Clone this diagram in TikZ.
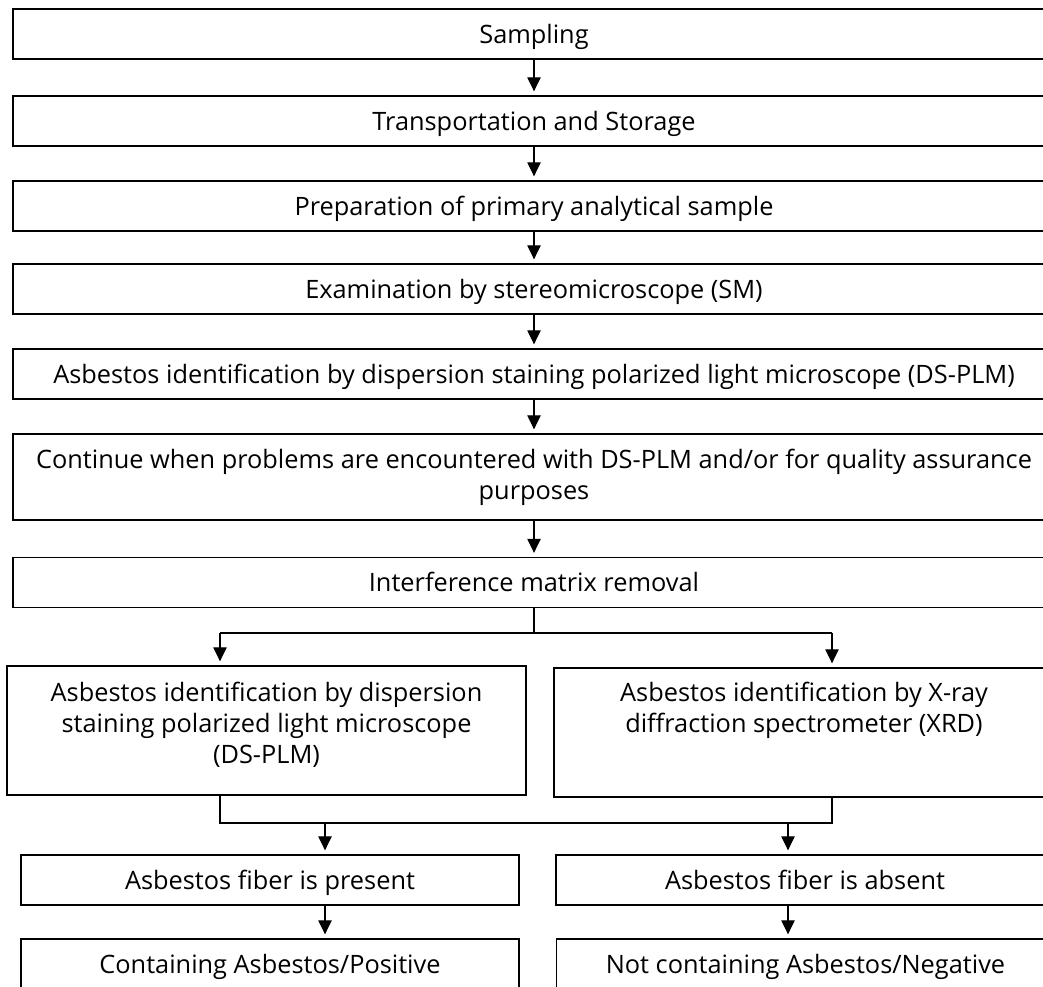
\documentclass[tikz,border=0pt]{standalone}
\usepackage{fontspec}
\setmainfont{Open Sans}
\usetikzlibrary{arrows.meta}

\begin{document}
\begin{tikzpicture}[x=0.75pt, y=-0.75pt,
		frame/.style={draw, line width=1pt, inner sep=0pt,
			font=\fontsize{19}{23.25}\selectfont},
		box/.style={frame, align=center},
		oneline/.style={frame, text height=13.6pt, text depth=0pt},
		wide/.style={oneline, minimum width=781.5pt, minimum height=37.5pt},
		half/.style={oneline, minimum width=373.5pt, minimum height=37.5pt},
		boxtext/.style={inner sep=0pt, align=center, anchor=north,
			font=\fontsize{19}{23.25}\selectfont},
		flow/.style={line width=0.9pt, shorten >=3pt,
			-{Triangle[length=10.5pt, width=10pt]}},
		link/.style={line width=0.9pt}]
	\useasboundingbox (0,0) rectangle (1043,986);
	\clip (0,0) rectangle (1043,986);

	\node[wide] (sampling)  at (534,34)  {Sampling};
	\node[wide] (transport) at (534,121) {Transportation and Storage};
	\node[wide] (prep)      at (534,206) {Preparation of primary analytical sample};
	\node[wide] (sm)        at (534,289) {Examination by stereomicroscope (SM)};
	\node[wide] (plm)       at (534,374) {Asbestos identification by dispersion staining polarized light microscope (DS-PLM)};
	\node[box, minimum width=781.5pt, minimum height=64.5pt] (cont) at (534,477)
		{Continue when problems are encountered with DS-PLM and/or for quality assurance\\purposes};
	\node[wide] (removal)   at (534,582.5) {Interference matrix removal};

	\node[box, minimum width=389.25pt, minimum height=96.75pt] (dsplm) at (266.5,730.5) {};
	\node[boxtext] (dsplmtext) at ([yshift=-12.5pt]dsplm.north)
		{Asbestos identification by dispersion\\staining polarized light microscope\\(DS-PLM)};
	\node[box, minimum width=375pt, minimum height=96.75pt] (xrd) at (804,732.5) {};
	\node[boxtext] (xrdtext) at ([yshift=-11pt]xrd.north)
		{Asbestos identification by X-ray\\diffraction spectrometer (XRD)};

	\node[half] (present)  at (270,880)   {Asbestos fiber is present};
	\node[half] (absent)   at (805,880)   {Asbestos fiber is absent};
	\node[half] (positive) at (270,964)   {Containing Asbestos/Positive};
	\node[half] (negative) at (805.5,964) {Not containing Asbestos/Negative};

	% split and merge points
	\coordinate (split)  at (534,633);
	\coordinate (splitL) at (220,633);
	\coordinate (splitR) at (832,633);
	\coordinate (mergeL) at (220,823);
	\coordinate (mergeR) at (832,823);
	\coordinate (tapP)   at (325,823);
	\coordinate (tapA)   at (788,823);

	\draw[flow] (sampling) -- (transport);
	\draw[flow] (transport) -- (prep);
	\draw[flow] (prep) -- (sm);
	\draw[flow] (sm) -- (plm);
	\draw[flow] (plm) -- (cont);
	\draw[flow] (cont) -- (removal);

	\draw[link] (removal.south) -- (split);
	\draw[link] (splitL) -- (splitR);
	\draw[flow] (splitL) -- (splitL |- dsplm.north);
	\draw[flow] (splitR) -- (splitR |- xrd.north);

	\draw[link] (dsplm.south -| mergeL) -- (mergeL) -- (mergeR) -- (xrd.south -| mergeR);
	\draw[flow] (tapP) -- (tapP |- present.north);
	\draw[flow] (tapA) -- (tapA |- absent.north);
	\draw[flow] (present.south -| tapP) -- (positive.north -| tapP);
	\draw[flow] (absent.south -| tapA) -- (negative.north -| tapA);
\end{tikzpicture}
\end{document}
